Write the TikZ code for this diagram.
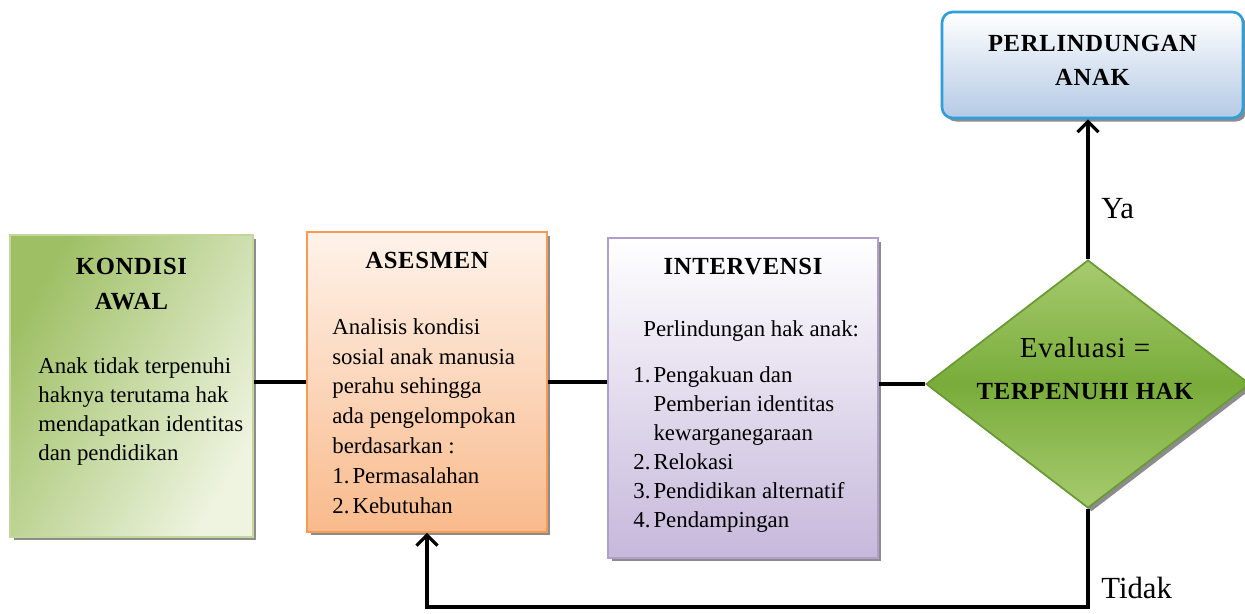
\documentclass[tikz,border=0pt]{standalone}
\usepackage{fontspec}
\setmainfont{Liberation Serif}
\newfontfamily\headfont[LetterSpace=3]{Liberation Serif}
\usetikzlibrary{shapes.geometric, shadows, arrows.meta, positioning}
\definecolor{kondisiDark}{HTML}{9EBF64}
\definecolor{kondisiLight}{HTML}{EEF4E0}
\definecolor{kondisiLine}{HTML}{C3D69B}
\definecolor{asesTop}{HTML}{FEF3EA}
\definecolor{asesBot}{HTML}{F9BA8C}
\definecolor{asesLine}{HTML}{F79A55}
\definecolor{intBot}{HTML}{C6B8DB}
\definecolor{intLine}{HTML}{B09ECB}
\definecolor{lindBot}{HTML}{B4CAE4}
\definecolor{lindLine}{HTML}{2E9FDB}
\definecolor{diaLight}{HTML}{A7CB6E}
\definecolor{diaMid}{HTML}{79AC3B}
\definecolor{diaLine}{HTML}{6A9A34}
\newcommand{\listno}[1]{\makebox[11.5pt][l]{#1}}
\tikzset{
  >={Straight Barb[length=6pt,width=12pt]},
  box/.style={rectangle, line width=1pt,
    drop shadow={shadow xshift=2pt, shadow yshift=-2pt, fill=black!45, opacity=1}},
  head/.style={inner sep=0pt, anchor=north, align=center,
    font=\headfont\bfseries\fontsize{14}{20}\selectfont},
  body/.style={inner sep=0pt, anchor=north west, align=left,
    font=\fontsize{13}{16.5}\selectfont},
  link/.style={line width=1.8pt},
  answer/.style={inner sep=0pt, anchor=west, font=\fontsize{17.5}{20}\selectfont},
}

\begin{document}
\begin{tikzpicture}[x=0.02cm, y=-0.02cm]
  \useasboundingbox (0,0) rectangle (1245,613);

  % boxes
  \node[box, draw=kondisiLine, left color=kondisiDark, right color=kondisiLight, shading angle=60,
        minimum width=4.86cm, minimum height=6.04cm] (kondisi) at (131.5,386) {};
  \node[box, draw=asesLine, top color=asesTop, bottom color=asesBot,
        minimum width=4.8cm, minimum height=6cm] (asesmen) at (427,382) {};
  \node[box, draw=intLine, top color=white, bottom color=intBot,
        minimum width=5.4cm, minimum height=6.4cm] (interv) at (743,398) {};
  \node[box, draw=lindLine, line width=1.5pt, rounded corners=6pt, top color=white, bottom color=lindBot,
        minimum width=6.02cm, minimum height=2.12cm] (lindung) at (1092.5,65) {};
  \node[box, diamond, draw=diaLine, inner sep=0pt, top color=diaLight, bottom color=diaLight, middle color=diaMid,
        minimum width=6.48cm, minimum height=4.96cm] (dia) at (1088,384) {};

  % texts
  \node[head] (kondisiHead) at (131.5,258) {KONDISI\\AWAL};
  \node[body] (kondisiText) at (38,357) {Anak tidak terpenuhi\\haknya terutama hak\\mendapatkan identitas\\dan pendidikan};

  \node[head] (asesmenHead) at (427,252) {ASESMEN};
  \node[body, font=\fontsize{13}{17}\selectfont] (asesmenText) at (332,318)
    {Analisis kondisi\\sosial anak manusia\\perahu sehingga\\ada pengelompokan\\berdasarkan :\\\listno{1.}Permasalahan\\\listno{2.}Kebutuhan};

  \node[head] (intervHead) at (743,258) {INTERVENSI};
  \node[body] (intervText) at (633,320)
    {\hspace*{5.7pt}Perlindungan hak anak:\\[10pt]\listno{1.}Pengakuan dan\\\listno{}Pemberian identitas\\\listno{}kewarganegaraan\\\listno{2.}Relokasi\\\listno{3.}Pendidikan alternatif\\\listno{4.}Pendampingan};

  \node[head, font=\headfont\bfseries\fontsize{14}{19}\selectfont] (lindungHead) at (1092.5,35) {PERLINDUNGAN\\ANAK};

  \node[inner sep=0pt, anchor=north, align=center, font=\fontsize{14}{24}\selectfont] (diaText) at (1085,337)
    {{\headfont\fontsize{16.5}{24}\selectfont Evaluasi =}\\{\headfont\bfseries TERPENUHI HAK}};

  % connectors
  \coordinate (loopEnd) at (1088,607);
  \draw[link] (kondisi.east |- asesmen.west) -- (asesmen.west);
  \draw[link] (asesmen.east) -- (interv.west |- asesmen.east);
  \draw[link] (interv.east |- dia.west) -- (dia.west);
  \draw[link,->] (dia.north) -- (dia.north |- lindung.south);
  \draw[link,->] (dia.south) -- (loopEnd) -| (asesmen.south);

  \node[answer] (ya) at (1101,209) {Ya};
  \node[answer] (tidak) at (1101,588) {Tidak};
\end{tikzpicture}
\end{document}
